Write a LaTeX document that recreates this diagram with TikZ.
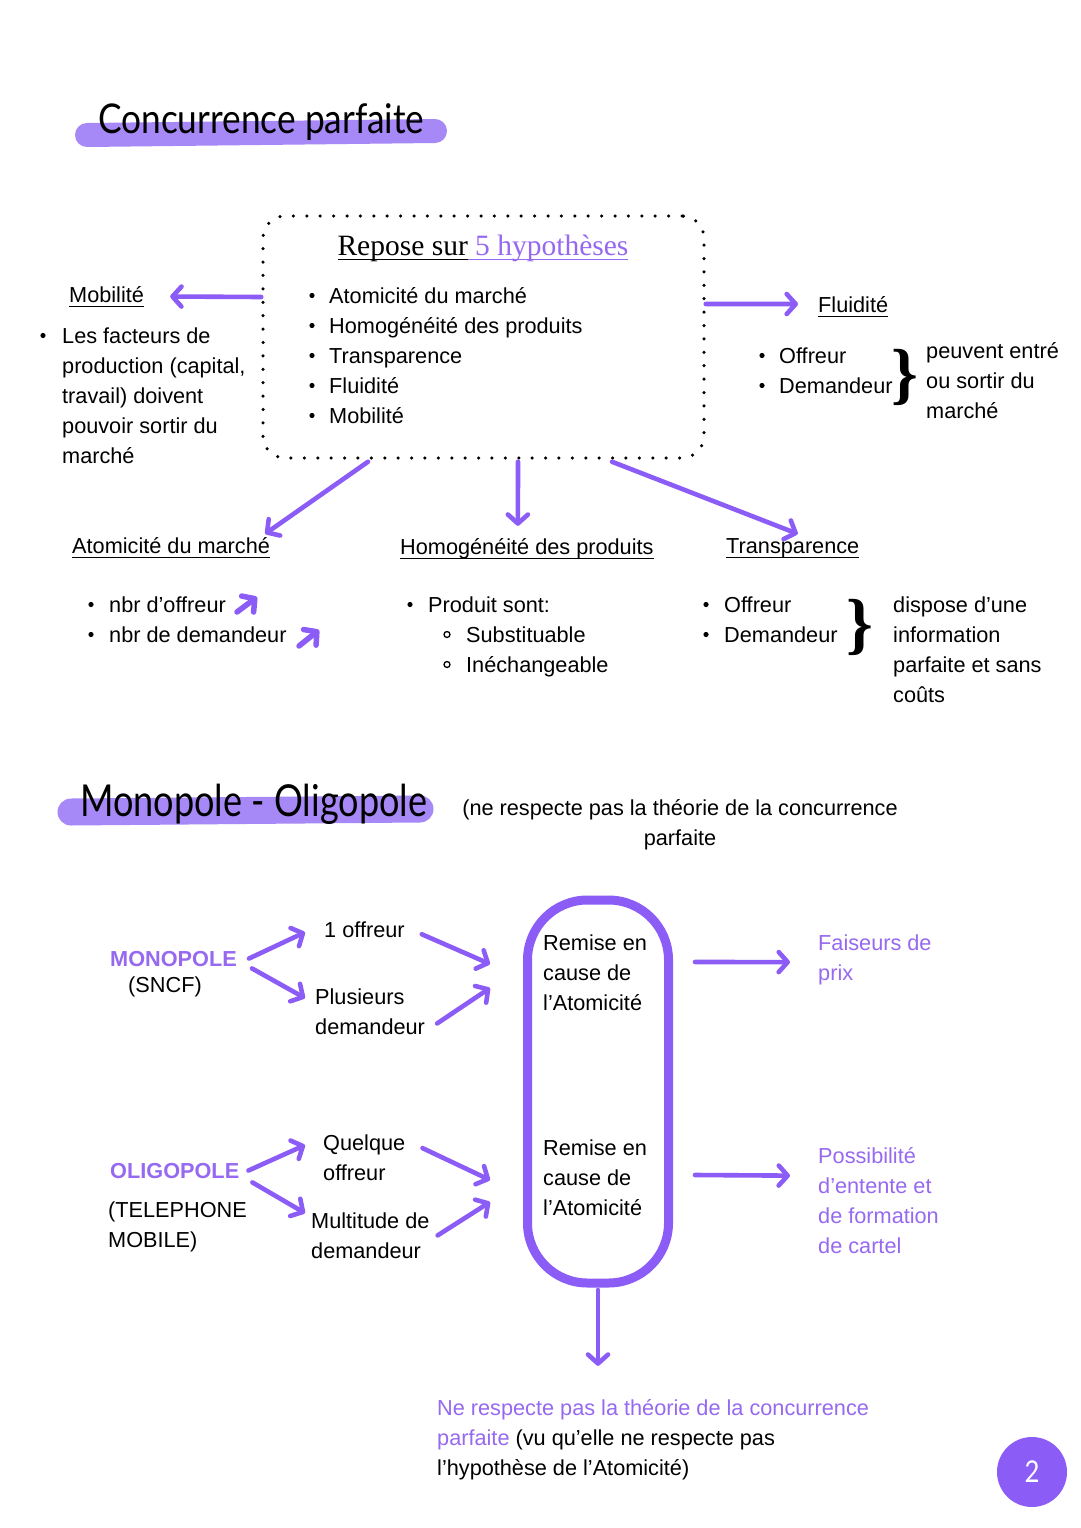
\documentclass[tikz,border=0pt]{standalone}
\usepackage{fontspec}
\setmainfont{Liberation Sans}
\newfontfamily\titlefont[FakeStretch=0.86]{Lato}
\newfontfamily\condfont[FakeStretch=0.82]{Lato}
\newfontfamily\seriffont{Liberation Serif}
\usetikzlibrary{arrows.meta}

% underline at a fixed depth
\newsavebox{\ulbox}
\newcommand{\ulin}[1]{\sbox{\ulbox}{#1}\rlap{\rule[-5pt]{\wd\ulbox}{1.5pt}}\usebox{\ulbox}}

\definecolor{violetline}{RGB}{139,92,246}
\definecolor{violettext}{RGB}{150,105,240}
\definecolor{violetmark}{RGB}{166,136,246}

\tikzset{
  % multi-line texts are placed by the baseline of their last line
  txt/.style={anchor=base west, inner sep=0pt, align=left, font=\fontsize{21.7}{30}\selectfont},
  flow/.style={draw=violetline, line width=4.6pt, line cap=round, -{Straight Barb[length=9pt, width=20pt, round]}},
  flowsmall/.style={flow, line width=5.5pt},
  marker/.style={violetmark, line width=24pt, line cap=round},
  hypbox/.style={draw, line width=3.5pt, line cap=round, dash pattern=on 0pt off 13.4pt, rounded corners=22pt},
  bracefont/.style={inner sep=0pt, font=\seriffont\bfseries\fontsize{68}{68}\selectfont},
}

\begin{document}
\begin{tikzpicture}[x=1pt, y=-1pt]
    % page
    \fill[white] (0,0) rectangle (1080,1528);
    \useasboundingbox (0,0) rectangle (1080,1528);

    % ---------------- Concurrence parfaite ----------------
    \draw[marker] (87,135) -- (435,131);
    \node[txt, font=\titlefont\fontsize{41}{41}\selectfont] (titreA) at (98,133) {Concurrence parfaite};

    % the dotted box with the 5 hypotheses
    \node[hypbox, minimum width=441pt, minimum height=242pt] (hyp) at (483.5,337) {};
    \node[anchor=base, inner sep=0pt, font=\seriffont\fontsize{29.5}{30}\selectfont] (hyptitle) at (483,255)
        {\ulin{Repose sur}\textcolor{violettext}{\ulin{\ 5 hypothèses}}};
    \node[txt] (hyplist) at (329,423) {Atomicité du marché\\Homogénéité des produits\\Transparence\\Fluidité\\Mobilité};
    \foreach \y in {303,333,363,393,423}
        \fill (312,\y-7.5) circle (2.6pt);

    % Mobilite (left)
    \node[txt] (mob) at (69,302) {\ulin{Mobilité}};
    \node[txt] (mobtxt) at (62,463) {Les facteurs de\\production (capital,\\travail) doivent\\pouvoir sortir du\\marché};
    \fill (43,335.5) circle (2.6pt);
    \draw[flow] ([shift={(0,-40)}]hyp.west) -- ([shift={(26,0)}]mob.east);

    % Fluidite (right)
    \node[txt] (flu) at (818,312) {\ulin{Fluidité}};
    \node[txt] (flulist) at (779,393) {Offreur\\Demandeur};
    \foreach \y in {363,393}
        \fill (762,\y-7.5) circle (2.6pt);
    \node[bracefont] (flubrace) at (905,377) {\}};
    \node[txt] (flutxt) at (926,418) {peuvent entré\\ou sortir du\\marché};
    \draw[flow] ([shift={(0,-33)}]hyp.east) -- ([shift={(-20,-2.5)}]flu.west);

    % Atomicite du marche
    \node[txt] (atom) at (72,553) {\ulin{Atomicité du marché}};
    \node[txt] (atomlist) at (109,642) {nbr d’offreur\\nbr de demandeur};
    \foreach \y in {612,642}
        \fill (91,\y-7.5) circle (2.6pt);
    \draw[flowsmall] (237,612) -- (257,597);
    \draw[flowsmall] (299,646) -- (319,630);
    \draw[flow] ([shift={(-115.5,2)}]hyp.south) -- ([shift={(-5,-3)}]atom.north east);

    % Homogeneite des produits
    \node[txt] (homog) at (400,554) {\ulin{Homogénéité des produits}};
    \node[txt] (prod) at (428,612) {Produit sont:};
    \node[txt] (prodlist) at (466,672) {Substituable\\Inéchangeable};
    \fill (410,604.5) circle (2.6pt);
    \foreach \y in {642,672}
        \draw[line width=1.3pt] (447,\y-7.5) circle (3pt);
    \draw[flow] ([shift={(34.5,2)}]hyp.south) -- ([shift={(-9,-12)}]homog.north);

    % Transparence
    \node[txt] (transp) at (726,553) {\ulin{Transparence}};
    \node[txt] (translist) at (724,642) {Offreur\\Demandeur};
    \foreach \y in {612,642}
        \fill (706,\y-7.5) circle (2.6pt);
    \node[bracefont] (transbrace) at (860,627) {\}};
    \node[txt] (transtxt) at (893,702) {dispose d’une\\information\\parfaite et sans\\coûts};
    \draw[flow] ([shift={(128.5,2)}]hyp.south) -- ([shift={(5,-4)}]transp.north);

    % ---------------- Monopole - Oligopole ----------------
    \draw[marker, line width=27pt] (71,812) -- (420,809);
    \node[txt, font=\condfont\fontsize{44}{44}\selectfont] (titreB) at (80,816) {Monopole - Oligopole};
    \node[txt, anchor=base, align=center] (remark) at (680,845) {(ne respecte pas la théorie de la concurrence\\parfaite};

    % the capsule
    \node[draw=violetline, line width=9pt, rounded corners=60pt, minimum width=141pt, minimum height=383pt] (capsule) at (598,1091.5) {};
    \node[txt] (remA) at (543,1010) {Remise en\\cause de\\l'Atomicité};
    \node[txt] (remB) at (543,1215) {Remise en\\cause de\\l'Atomicité};

    % monopole
    \node[txt, font=\bfseries\fontsize{21.7}{30}\selectfont, text=violettext] (mono) at (110,966) {MONOPOLE};
    \node[txt, anchor=base] (sncf) at (165,992) {(SNCF)};
    \node[txt] (unoff) at (324,937) {1 offreur};
    \node[txt] (plus) at (315,1034) {Plusieurs\\demandeur};
    \draw[flow] ([shift={(12,0)}]mono.east) -- ([shift={(-19,3)}]unoff.west);
    \draw[flow] ([shift={(15,2)}]mono.south east) -- ([shift={(-10,10)}]plus.north west);
    \draw[flow] ([shift={(17,5)}]unoff.east) -- ([shift={(-33,-127.5)}]capsule.west);
    \draw[flow] ([shift={(12,-11)}]plus.south east) -- ([shift={(-33,-103.5)}]capsule.west);

    % oligopole
    \node[txt, font=\bfseries\fontsize{21.7}{30}\selectfont, text=violettext] (oligo) at (110,1178) {OLIGOPOLE};
    \node[txt] (tel) at (108,1247) {(TELEPHONE\\MOBILE)};
    \node[txt] (quel) at (323,1180) {Quelque\\offreur};
    \node[txt] (multi) at (311,1258) {Multitude de\\demandeur};
    \draw[flow] ([shift={(9,0)}]oligo.east) -- ([shift={(-18,11)}]quel.north west);
    \draw[flow] ([shift={(13,4)}]oligo.south east) -- ([shift={(-6,1)}]multi.north west);
    \draw[flow] ([shift={(17,14)}]quel.north east) -- ([shift={(-33,88.5)}]capsule.west);
    \draw[flow] ([shift={(8,-23)}]multi.south east) -- ([shift={(-33,110.5)}]capsule.west);

    % consequences
    \node[txt, text=violettext] (faiseur) at (818,980) {Faiseurs de\\prix};
    \node[txt, text=violettext] (possib) at (818,1253) {Possibilité\\d’entente et\\de formation\\de cartel};
    \draw[flow] ([shift={(22,-129.5)}]capsule.east) -- ([shift={(-28,2.7)}]faiseur.west);
    \draw[flow] ([shift={(22,83.5)}]capsule.east) -- ([shift={(-28,-24.5)}]possib.west);

    % conclusion
    \node[txt] (concl) at (437,1475) {\textcolor{violettext}{Ne respecte pas la théorie de la concurrence}\\
        \textcolor{violettext}{parfaite} (vu qu'elle ne respecte pas\\l'hypothèse de l'Atomicité)};
    \draw[flow] ([shift={(0,2.5)}]capsule.south) -- ([shift={(161,-33)}]concl.north west);

    % page number
    \node[circle, fill=violetline, minimum size=70pt, inner sep=0pt, text=white,
          font=\titlefont\fontsize{30}{30}\selectfont] (page) at (1032,1472) {2};
\end{tikzpicture}
\end{document}
